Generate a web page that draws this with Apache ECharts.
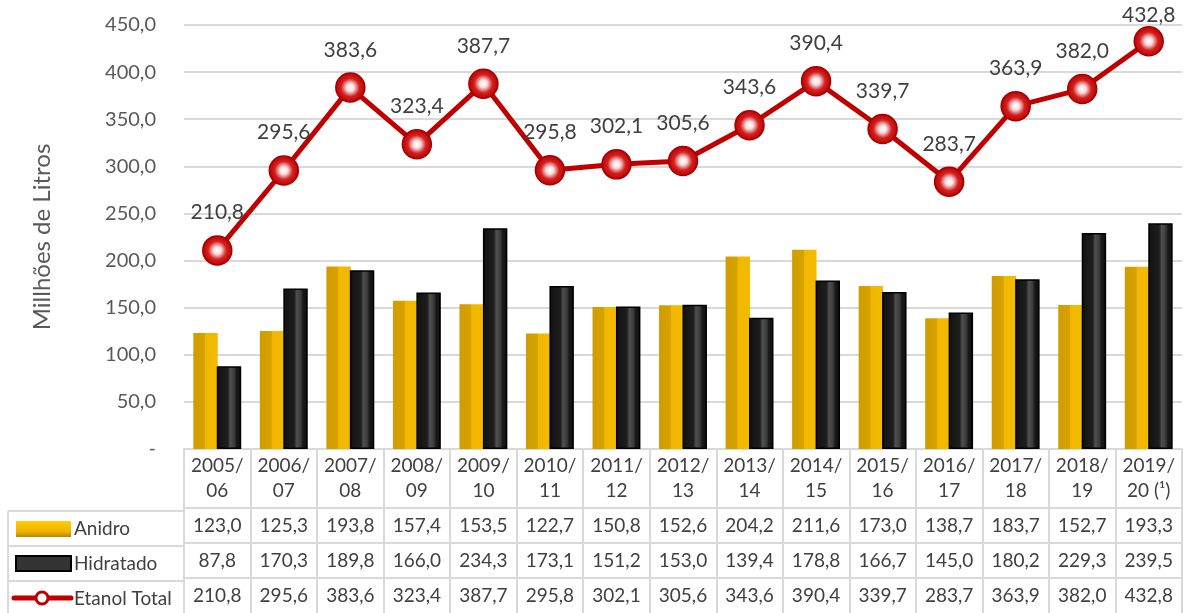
<!DOCTYPE html>
<html>
<head>
<meta charset="utf-8">
<script src="https://cdn.jsdelivr.net/npm/echarts@6/dist/echarts.min.js"></script>
<style>
  html, body { margin: 0; padding: 0; background: #fff; }
  #main { width: 1184px; height: 613px; }
</style>
</head>
<body>
<div id="main"></div>
<script>
// dados (milhões de litros)
var safras = ['2005/\n06', '2006/\n07', '2007/\n08', '2008/\n09', '2009/\n10', '2010/\n11', '2011/\n12',
  '2012/\n13', '2013/\n14', '2014/\n15', '2015/\n16', '2016/\n17', '2017/\n18', '2018/\n19', '2019/\n20 (¹)'];
var anidro = [123.0, 125.3, 193.8, 157.4, 153.5, 122.7, 150.8, 152.6, 204.2, 211.6, 173.0, 138.7, 183.7, 152.7, 193.3];
var hidratado = [87.8, 170.3, 189.8, 166.0, 234.3, 173.1, 151.2, 153.0, 139.4, 178.8, 166.7, 145.0, 180.2, 229.3, 239.5];
var etanolTotal = [210.8, 295.6, 383.6, 323.4, 387.7, 295.8, 302.1, 305.6, 343.6, 390.4, 339.7, 283.7, 363.9, 382.0, 432.8];

var FONT = 'Lato';
var GRID_TOP = 25, GRID_BOTTOM_Y = 452;
var HEADER_H = 59, ROW_H = 35;
var borderColor = '#d9d9d9';

// numero no formato pt-BR
var fmt = function (v) {
  return v.toFixed(1).replace('.', ',');
};

var myChart = echarts.init(document.getElementById('main'));

// linhas da tabela de dados (eixos extras embaixo do grid)
var tableRows = [anidro, hidratado, etanolTotal];
var tableAxes = tableRows.map(function (row, i) {
  return {
    type: 'category',
    gridIndex: 0,
    position: 'bottom',
    offset: HEADER_H + ROW_H * i,
    data: row.map(fmt),
    axisLine: { show: true, lineStyle: { color: borderColor, width: 2 } },
    axisTick: { show: true, interval: 0, length: ROW_H, lineStyle: { color: borderColor, width: 2 } },
    axisLabel: { interval: 0, margin: 0, lineHeight: ROW_H, fontSize: 19, color: '#404040', fontFamily: FONT },
    splitLine: { show: false }
  };
});

var gold = {
  type: 'linear', x: 0, y: 0, x2: 1, y2: 0,
  colorStops: [
    { offset: 0, color: '#d09c00' }, { offset: 0.47, color: '#d6a300' },
    { offset: 0.5, color: '#f2b700' }, { offset: 1, color: '#f4ba00' }
  ]
};
var black = {
  type: 'linear', x: 0, y: 0, x2: 1, y2: 0,
  colorStops: [
    { offset: 0, color: '#111' }, { offset: 0.45, color: '#1e1e1e' },
    { offset: 0.55, color: '#505050' }, { offset: 0.72, color: '#3a3a3a' },
    { offset: 0.8, color: '#1a1a1a' }, { offset: 1, color: '#0d0d0d' }
  ]
};
var marker = {
  type: 'radial', x: 0.5, y: 0.5, r: 0.5,
  colorStops: [
    { offset: 0, color: '#ffffff' }, { offset: 0.25, color: '#f8dede' },
    { offset: 0.6, color: '#d42020' }, { offset: 1, color: '#b80000' }
  ]
};

var rowY = function (i) { return GRID_BOTTOM_Y + HEADER_H + ROW_H * i; };

var graphics = [
  // bordas da coluna de titulos
  { type: 'line', shape: { x1: 8, y1: rowY(0), x2: 8, y2: 613 }, style: { stroke: borderColor, lineWidth: 2 } },
  { type: 'line', shape: { x1: 8, y1: rowY(0), x2: 184, y2: rowY(0) }, style: { stroke: borderColor, lineWidth: 2 } },
  { type: 'line', shape: { x1: 8, y1: rowY(1), x2: 184, y2: rowY(1) }, style: { stroke: borderColor, lineWidth: 2 } },
  { type: 'line', shape: { x1: 8, y1: rowY(2), x2: 184, y2: rowY(2) }, style: { stroke: borderColor, lineWidth: 2 } },
  { type: 'line', shape: { x1: 184, y1: GRID_BOTTOM_Y, x2: 184, y2: 613 }, style: { stroke: borderColor, lineWidth: 2 } },
  // icone anidro
  { type: 'rect', shape: { x: 16, y: rowY(0) + 10, width: 55, height: 16 },
    style: { fill: { type: 'linear', x: 0, y: 0, x2: 0, y2: 1,
      colorStops: [{ offset: 0, color: '#ffd000' }, { offset: 0.35, color: '#f5bd00' }, { offset: 0.65, color: '#f0b400' }, { offset: 1, color: '#b38600' }] } } },
  // icone hidratado
  { type: 'rect', shape: { x: 16, y: rowY(1) + 10, width: 55, height: 15 },
    style: { fill: '#333', stroke: '#000', lineWidth: 2 } },
  // icone etanol total
  { type: 'line', shape: { x1: 14, y1: rowY(2) + 17, x2: 71, y2: rowY(2) + 17 }, style: { stroke: '#c00000', lineWidth: 5, lineCap: 'round' } },
  { type: 'circle', shape: { cx: 42, cy: rowY(2) + 17, r: 6 }, style: { fill: '#fff', stroke: '#c00000', lineWidth: 3 } }
];
['Anidro', 'Hidratado', 'Etanol Total'].forEach(function (name, i) {
  graphics.push({
    type: 'text', x: 74, y: rowY(i) + ROW_H / 2,
    style: { text: name, fontSize: 19, fontFamily: FONT, fill: '#404040', verticalAlign: 'middle' }
  });
});

// rotulo mais alto fica mais perto do ponto para nao sair do topo
var totalData = etanolTotal.map(function (v) {
  if (v > 420) {
    return { value: v, label: { distance: 0 } };
  }
  return v;
});

myChart.setOption({
  animation: false,
  textStyle: { fontFamily: FONT },
  grid: { left: 184, right: 2, top: GRID_TOP, bottom: 613 - GRID_BOTTOM_Y, containLabel: false },
  xAxis: [
    {
      type: 'category',
      data: safras,
      axisLine: { show: true, lineStyle: { color: borderColor, width: 2 } },
      axisTick: { show: true, interval: 0, length: HEADER_H, lineStyle: { color: borderColor, width: 2 } },
      axisLabel: { interval: 0, margin: 4, lineHeight: 25, fontSize: 19, color: '#404040', fontFamily: FONT }
    }
  ].concat(tableAxes),
  yAxis: {
    type: 'value',
    min: 0,
    max: 450,
    interval: 50,
    name: 'Millhões de Litros',
    nameLocation: 'middle',
    nameGap: 130,
    nameTextStyle: { fontSize: 24, color: '#595959', fontFamily: FONT },
    axisLine: { show: false },
    axisTick: { show: false },
    axisLabel: {
      margin: 28, fontSize: 20, color: '#595959', fontFamily: FONT,
      formatter: function (v) { return v === 0 ? '-' : fmt(v); }
    },
    splitLine: { lineStyle: { color: borderColor, width: 2 } }
  },
  series: [
    {
      name: 'Anidro',
      type: 'bar',
      data: anidro,
      barCategoryGap: '28%',
      barGap: '-4%',
      itemStyle: { color: gold }
    },
    {
      name: 'Hidratado',
      type: 'bar',
      data: hidratado,
      itemStyle: { color: black, borderColor: '#000', borderWidth: 1.5 }
    },
    {
      name: 'Etanol Total',
      type: 'line',
      data: totalData,
      z: 5,
      symbol: 'circle',
      symbolSize: 29,
      lineStyle: { color: '#c00000', width: 5 },
      itemStyle: { color: marker, borderColor: '#a80000', borderWidth: 1.5 },
      label: {
        show: true, position: 'top', distance: 12,
        fontSize: 21, color: '#404040', fontFamily: FONT,
        formatter: function (p) { return fmt(p.value); }
      }
    }
  ],
  graphic: graphics
});
</script>
</body>
</html>
